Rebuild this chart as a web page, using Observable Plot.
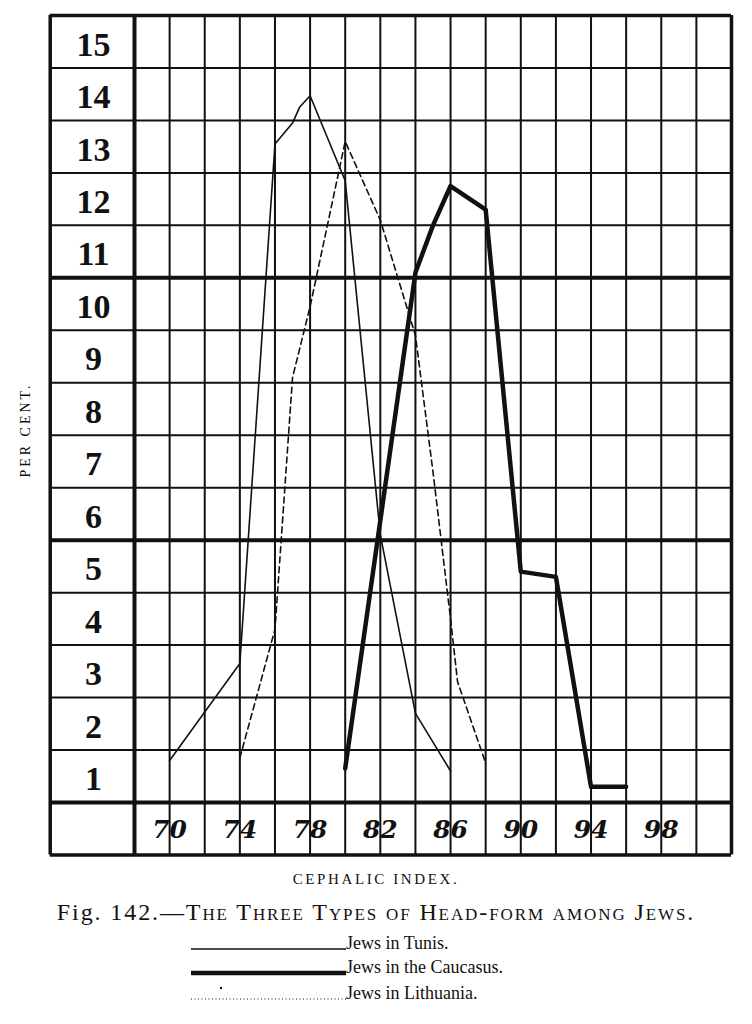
<!DOCTYPE html>
<html>
<head>
<meta charset="utf-8">
<script src="https://cdn.jsdelivr.net/npm/d3@7"></script>
<script src="https://cdn.jsdelivr.net/npm/@observablehq/plot@0.6"></script>
<style>
  html, body { margin: 0; padding: 0; background: #fff; }
  #wrap { position: relative; width: 752px; height: 1024px; overflow: hidden; background: #fff; }
  #chart { position: absolute; left: 0; top: 0; }
  .cap { position: absolute; font-family: "Liberation Serif", serif; color: #111; white-space: nowrap; line-height: 1; }
  #xtitle { left: 0; width: 752px; text-align: center; top: 872px; font-size: 15px; letter-spacing: 2.6px; }
  #title { left: 0; width: 752px; text-align: center; top: 900px; font-size: 24px; letter-spacing: 1.9px; }
  #title .sc { font-variant: small-caps; }
  .leg { position: absolute; left: 188px; height: 20px; }
  .leg svg { position: absolute; left: 0; top: 0; }
  .leg span { position: absolute; left: 158px; top: 1px; font-family: "Liberation Serif", serif; font-size: 18px; line-height: 1; color: #111; white-space: nowrap; }
</style>
</head>
<body>
<div id="wrap">
  <div id="chart"></div>
  <div id="xtitle" class="cap">CEPHALIC INDEX.</div>
  <div id="title" class="cap">Fig. 142.—<span class="sc">The Three Types of Head-form among Jews.</span></div>
  <div id="legend"></div>
</div>
<script>
// ---- data ----
const tunisX = [70, 74, 76, 77, 77.4, 78, 80, 82, 84, 86];
const tunisY = [0.8, 2.65, 12.55, 12.95, 13.25, 13.47, 11.85, 5.1, 1.7, 0.6];

const caucasusX = [80, 84, 85, 86, 88, 90, 92, 94, 96];
const caucasusY = [0.65, 10.1, 11.0, 11.75, 11.3, 4.4, 4.3, 0.3, 0.3];

const lithuaniaX = [74, 76, 77, 78, 80, 82, 84, 85, 86, 86.4, 88];
const lithuaniaY = [0.85, 3.3, 8.1, 9.45, 12.6, 11.1, 8.9, 6.3, 3.5, 2.3, 0.75];

const yTickLabels = [1, 2, 3, 4, 5, 6, 7, 8, 9, 10, 11, 12, 13, 14, 15];
const xTickLabels = [70, 74, 78, 82, 86, 90, 94, 98];
const xGrid = [70, 72, 74, 76, 78, 80, 82, 84, 86, 88, 90, 92, 94, 96, 98, 100];
const yGridThin = [1, 2, 3, 4, 6, 7, 8, 9, 11, 12, 13, 14];
const yGridThick = [0, 5, 10];

const seriesNames = ["Jews in Tunis.", "Jews in the Caucasus.", "Jews in Lithuania."];

// table extent (label column to the left of 68, label row below 0)
const tableLeft = 63.2, tableRight = 102, tableBottom = -1, tableTop = 15;

const tunis = tunisX.map((x, i) => ({x, y: tunisY[i]}));
const caucasus = caucasusX.map((x, i) => ({x, y: caucasusY[i]}));
const lithuania = lithuaniaX.map((x, i) => ({x, y: lithuaniaY[i]}));

const ink = "#111";

const chart = Plot.plot({
  width: 752,
  height: 862,
  marginTop: 15,
  marginBottom: 60,
  marginLeft: 134,
  marginRight: 21,
  x: {domain: [68, 102], axis: null},
  y: {domain: [0, 15], axis: null},
  style: {background: "white", overflow: "visible"},
  marks: [
    // vertical grid
    Plot.ruleX(xGrid, {y1: tableBottom, y2: tableTop, stroke: ink, strokeWidth: 2}),
    // horizontal grid
    Plot.ruleY(yGridThin, {x1: tableLeft, x2: tableRight, stroke: ink, strokeWidth: 2}),
    Plot.ruleY(yGridThick, {x1: tableLeft, x2: tableRight, stroke: ink, strokeWidth: 4}),
    // table borders
    Plot.ruleX([68], {y1: tableBottom, y2: tableTop, stroke: ink, strokeWidth: 4}),
    Plot.ruleX([tableLeft, tableRight], {y1: tableBottom, y2: tableTop, stroke: ink, strokeWidth: 3.5}),
    Plot.ruleY([tableBottom, tableTop], {x1: tableLeft, x2: tableRight, stroke: ink, strokeWidth: 3.5}),
    // row labels
    Plot.text(yTickLabels, {
      x: 68, dx: -41, y: d => d - 0.5, dy: 3, text: d => String(d),
      fontFamily: "Liberation Serif", fontWeight: "bold", fontSize: 34, fill: ink
    }),
    // column labels
    Plot.text(xTickLabels, {
      x: d => d, y: -0.5, dy: 1, text: d => String(d),
      fontFamily: "DejaVu Serif", fontStyle: "italic", fontWeight: "bold", fontSize: 25, fill: ink
    }),
    // axis title
    Plot.text(["PER CENT."], {
      x: 68, dx: -109, y: 7.1, rotate: -90, text: d => d,
      fontFamily: "Liberation Serif", fontSize: 14, fill: ink
    }),
    // curves
    Plot.line(tunis, {x: "x", y: "y", stroke: ink, strokeWidth: 1.6, strokeLinejoin: "round"}),
    Plot.line(lithuania, {x: "x", y: "y", stroke: ink, strokeWidth: 1.6, strokeDasharray: "6,4"}),
    Plot.line(caucasus, {x: "x", y: "y", stroke: ink, strokeWidth: 4.5, strokeLinejoin: "round"})
  ]
});
// letter spacing for PER CENT.
chart.querySelectorAll("text").forEach(t => {
  if (t.textContent === "PER CENT.") t.setAttribute("letter-spacing", "3");
});
document.getElementById("chart").appendChild(chart);

// legend
const legendStyles = [
  {w: 1.6, dash: null},
  {w: 4.5, dash: null},
  {w: 1.2, dash: "1,2.5"}
];
const legendTops = [933, 957, 983];
const legend = document.getElementById("legend");
seriesNames.forEach((name, i) => {
  const d = document.createElement("div");
  d.className = "leg";
  d.style.top = legendTops[i] + "px";
  const s = legendStyles[i];
  d.innerHTML = `<svg width="160" height="20"><line x1="3" x2="158" y1="16" y2="16" stroke="${ink}" stroke-width="${s.w}" ${s.dash ? `stroke-dasharray="${s.dash}"` : ""}/>${i === 2 ? '<circle cx="33" cy="5" r="1.2" fill="#111"/>' : ""}</svg><span>${name}</span>`;
  legend.appendChild(d);
});
</script>
</body>
</html>
